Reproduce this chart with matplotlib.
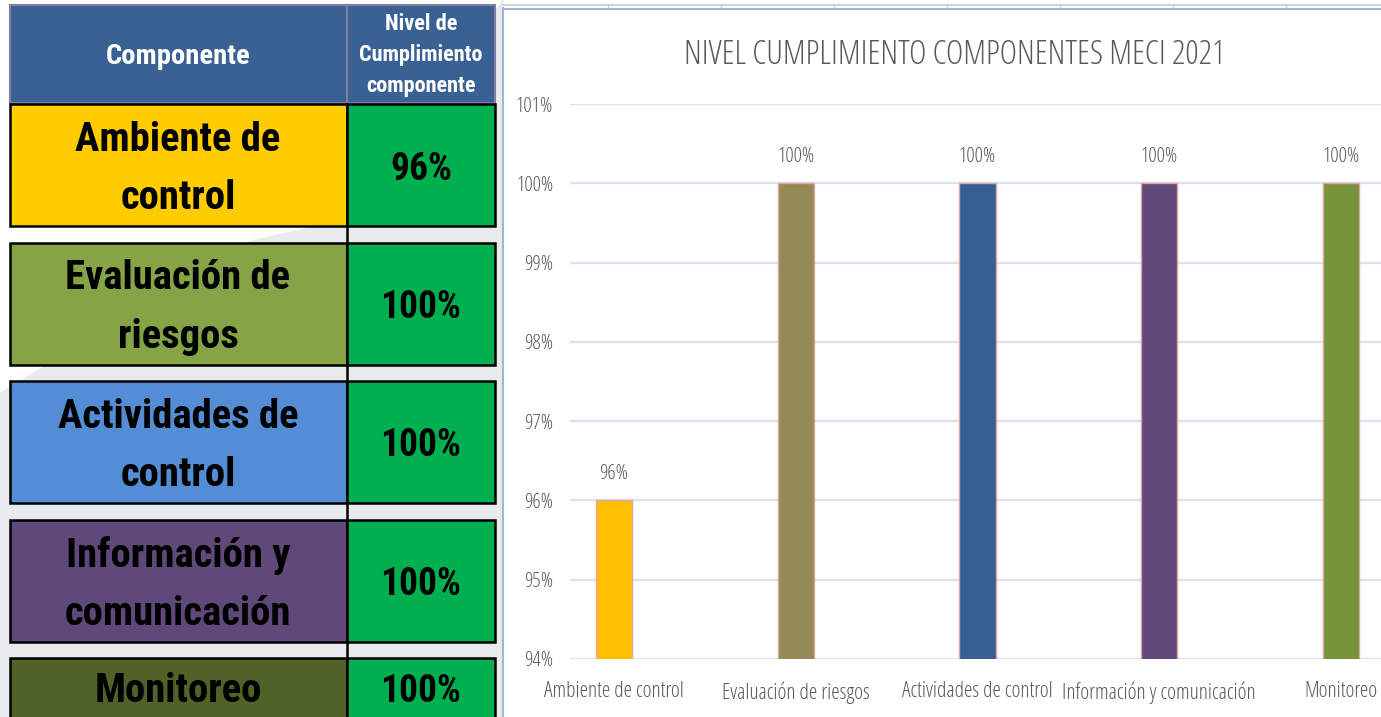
import matplotlib
matplotlib.use('Agg')
import matplotlib.pyplot as plt
from matplotlib import font_manager as fm
from matplotlib.patches import Rectangle, Polygon

# componentes MECI y nivel de cumplimiento (%)
componentes = ['Ambiente de control', 'Evaluación de riesgos', 'Actividades de control',
               'Información y comunicación', 'Monitoreo']
etiquetas_tabla = ['Ambiente de\ncontrol', 'Evaluación de\nriesgos', 'Actividades de\ncontrol',
                   'Información y\ncomunicación', 'Monitoreo']
cumplimiento = [96, 100, 100, 100, 100]
marcas_y = [94, 95, 96, 97, 98, 99, 100, 101]

colores_tabla = ['#FFCC00', '#84A446', '#538DD5', '#60497A', '#4F6228']
colores_barras = ['#FFC000', '#948A54', '#366092', '#604A7B', '#77933C']

GRIS = '#595959'


def fuente(archivo, **respaldo):
    # busca el archivo de la fuente instalada; si no existe usa la familia indicada
    for f in fm.fontManager.ttflist:
        if f.fname.endswith(archivo):
            return fm.FontProperties(fname=f.fname)
    return fm.FontProperties(**respaldo)


f_tabla = fuente('RobotoCondensed-Bold.ttf', family='DejaVu Sans', weight='bold')
f_graf = fuente('OpenSans-CondLight.ttf', family='DejaVu Sans')


def txt(obj, x, y, s, size, fp, **kw):
    p = fp.copy()
    p.set_size(size)
    return obj.text(x, y, s, fontproperties=p, **kw)


W, H = 1381, 717
fig = plt.figure(figsize=(W / 100, H / 100), dpi=100)
fig.patch.set_facecolor('white')

# fondo en coordenadas de pixel para la tabla
bg = fig.add_axes([0, 0, 1, 1])
bg.set_xlim(0, W)
bg.set_ylim(H, 0)
bg.axis('off')

bg.add_patch(Rectangle((0, 0), 503, H, color='#E9EAEC', zorder=0))
bg.add_patch(Polygon([(0, 0), (500, 0), (500, 3), (330, 222), (250, 240), (0, 392)],
                     closed=True, color='white', zorder=0))

# encabezado
for x0, ancho in [(10, 337), (347, 148)]:
    bg.add_patch(Rectangle((x0, 5), ancho, 98, facecolor='#3A6193',
                           edgecolor='#7F7F9F', lw=1.5, zorder=1))
txt(bg, 178, 57, 'Componente', 20.5, f_tabla, color='white', ha='center', va='center', zorder=3)
txt(bg, 421, 55, 'Nivel de\nCumplimiento\ncomponente', 16, f_tabla, color='white',
    ha='center', va='center', linespacing=1.55, zorder=3)

# filas de la tabla
bg.plot([347, 347], [104, H], color='black', lw=1.8, zorder=1)
for i, (etq, val, col) in enumerate(zip(etiquetas_tabla, cumplimiento, colores_tabla)):
    top = 104 + i * 138.5
    alto = 122 if i < 4 else 80
    bg.add_patch(Rectangle((10, top), 337, alto, facecolor=col, edgecolor='black',
                           lw=1.8, zorder=2))
    bg.add_patch(Rectangle((347, top), 148, alto, facecolor='#00B050', edgecolor='black',
                           lw=1.8, zorder=2))
    yc = top + 65 if i < 4 else top + 33
    txt(bg, 178, yc, etq, 29.3, f_tabla, ha='center', va='center', linespacing=1.68, zorder=3)
    txt(bg, 421, yc, f'{val}%', 27, f_tabla, ha='center', va='center', zorder=3)

# marco del grafico
bg.add_patch(Rectangle((503, 0), W - 503, H, color='white', zorder=1))
bg.plot([503, W], [5, 5], color='#D3D3D3', lw=1.5, zorder=2)
for xs in range(608, W, 113):
    bg.plot([xs, xs], [4, 8], color='#D3D3D3', lw=1, zorder=2)
bg.plot([503, W], [8.5, 8.5], color='#9DB5D8', lw=1.5, zorder=2)
bg.plot([503.5, 503.5], [8, H], color='#9DB5D8', lw=1.5, zorder=2)

txt(fig, 955 / W, 1 - 55 / H, 'NIVEL CUMPLIMIENTO COMPONENTES MECI 2021', 24, f_graf,
    color=GRIS, ha='center', va='center')

# grafico de barras
ax = fig.add_axes([570 / W, 58 / H, (W - 570) / W, 555 / H])
ax.patch.set_alpha(0)
x = list(range(len(componentes)))
ax.bar(x, cumplimiento, width=0.2, color=colores_barras, edgecolor='#E3A3A3',
       linewidth=1, zorder=3)
f_etq = f_graf.copy()
f_etq.set_size(15)
for xi, v in zip(x, cumplimiento):
    ax.annotate(f'{v}%', (xi, v), xytext=(0, 19), textcoords='offset points',
                ha='center', va='center', color=GRIS, fontproperties=f_etq)

ax.set_ylim(94, 101)
ax.set_xlim(-0.242, 4.22)
ax.set_yticks(marcas_y)
ax.set_yticklabels([f'{v}%' for v in marcas_y], color=GRIS, fontproperties=f_etq)
f_cat = f_graf.copy()
f_cat.set_size(15.5)
ax.set_xticks(x)
ax.set_xticklabels(componentes, color=GRIS, fontproperties=f_cat)
ax.tick_params(axis='y', length=0, pad=12)
ax.tick_params(axis='x', length=0, pad=16)
ax.yaxis.grid(True, color='#D9E2F0', lw=1.7)
ax.set_axisbelow(True)
for s in ax.spines.values():
    s.set_visible(False)

fig.savefig('out.png', dpi=100)
